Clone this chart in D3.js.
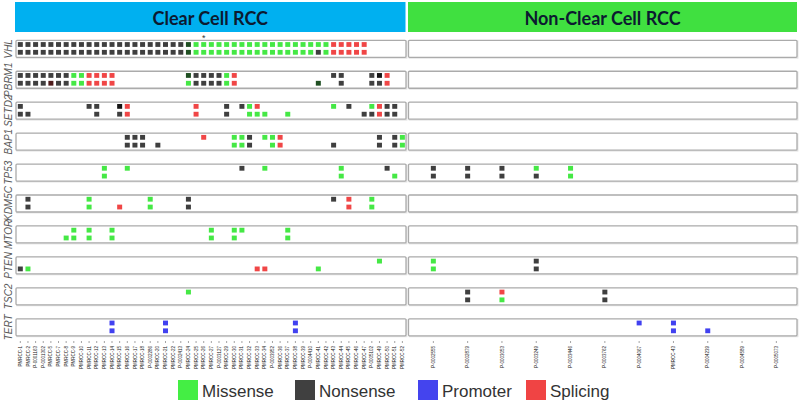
<!DOCTYPE html>
<html>
<head>
<meta charset="utf-8">
<script src="https://cdn.jsdelivr.net/npm/d3@7"></script>
<style>
  body { margin: 0; background: #fff; }
  svg { display: block; }
</style>
</head>
<body>
<div id="chart"></div>
<script>
// rows of the plot
var genes = ["VHL", "PBRM1", "SETD2", "BAP1", "TP53", "KDM5C", "MTOR", "PTEN", "TSC2", "TERT"];

// samples (columns)
var ccSamples = ["PMRCC-1","PMRCC-2","P-0001163","P-0001302","PMRCC-5","PMRCC-7","PMRCC-8","PMRCC-9","PMRCC-10","PMRCC-11",
  "PMRCC-12","PMRCC-13","PMRCC-14","PMRCC-15","PMRCC-16","PMRCC-17","PMRCC-18","P-0002286","PMRCC-20","PMRCC-21",
  "PMRCC-22","P-0002413","PMRCC-24","PMRCC-25","PMRCC-26","PMRCC-27","P-0003127","PMRCC-29","PMRCC-30","PMRCC-31",
  "PMRCC-32","PMRCC-33","PMRCC-34","P-0003952","PMRCC-36","PMRCC-37","PMRCC-38","PMRCC-39","P-0004410","PMRCC-41",
  "PMRCC-42","PMRCC-43","PMRCC-44","PMRCC-45","PMRCC-46","PMRCC-47","P-0005102","PMRCC-49","PMRCC-50","PMRCC-51",
  "PMRCC-52"];
var nccSamples = ["P-0002555","P-0002879","P-0003053","P-0003249","P-0003446","P-0003762","P-0004067","PMRCC-43","P-0004239","P-0004589","P-0005073"];

// mutation per sample, two lines per gene
// M missense, N nonsense, P promoter, S splicing, X dark green, K black, R dark red, . none
var ccTop = [
  "NNNNNNNNNN NNNNNNNNNN NNXMMMMMMM MMMMMMMMMM MSSSSS.... .",
  "NNNNNNNMMS SSS....... ..XNNNNMS. .......... .NN...NKS. .",
  "N........N N..KS..... ...S...N.N MS........ .M.N..MSNN .",
  ".......... ....NNN... ....S...MM N.MMS..... .......N.N M",
  ".......... .M..M..... .........N ..M....... ..M.....N. .",
  ".N.......M .......M.. ..N....... .......... .N.S..M... .",
  ".......M.M ..M....... .....M..MM .....M.... .......... .",
  ".......... .......... .......... .......... .......M.. .",
  ".......... .......... ..M....... .......... .......... .",
  ".......... ..P......P .......... ......P... .......... ."
];
var ccBottom = [
  "NNNNNNNNNN NNNNNNNNNN NNXMMMMMMM MMMMMMMMMN MSSSSS.... .",
  "NNNNRNNMMS SSS....... ..MNNNNMS. .........X ..N...NNS. .",
  "NN........ N..NS..... ...S...N.. MMM..M.... .....NNSNN .",
  ".......... ....NNN.N. ........MM N..MS..... .N.....N.N M",
  ".......... .M........ .......... .......... ..M......M .",
  ".N.......M ...S...M.. ..N....... .......... ...S..M... .",
  "......MM.M ..M....... .....M..M. .....M.... .......... .",
  "NM........ .......... .......... .SS......M .......... .",
  ".......... .......... .......... .......... .......... .",
  ".......... ..P......P .......... ......P... .......... ."
];
var nccTop = [
  "...........", "...........", "...........", "...........",
  "NNNMM......", "...........", "...........", "M..N.......",
  ".NS..N.....", "......PP..."
];
var nccBottom = [
  "...........", "...........", "...........", "...........",
  "NNNNM......", "...........", "...........", "M..N.......",
  ".NM..N.....", ".......PP.."
];
var starredSamples = ["PMRCC-26"];

var panelTitles = ["Clear Cell RCC", "Non-Clear Cell RCC"];
var legendKeys = ["Missense", "Nonsense", "Promoter", "Splicing"];

var colors = {M: "#45e845", N: "#3f3f3f", P: "#4141f0", S: "#f04646", X: "#1f4f22", K: "#151515", R: "#4e1a1a"};
var legendColor = d3.scaleOrdinal().domain(legendKeys).range(["#44ee44", "#404040", "#4444ee", "#f04444"]);

var width = 800, height = 407;
var svg = d3.select("#chart").append("svg")
  .attr("width", width)
  .attr("height", height);

// scales
var xL = d3.scaleBand().domain(ccSamples).range([16.5, 406.2]);
var xR = d3.scaleBand().domain(nccSamples).range([416.2, 793.5]);
var y = d3.scaleBand().domain(genes).range([40.3, 335.8]).paddingInner(0.4507).paddingOuter(0);
var ySub = d3.scalePoint().domain([0, 1]).range([4.2, 12]);

var sqW = 5, sqH = 4.8;

// headers
var headers = [
  {title: panelTitles[0], x0: 15, x1: 405.5, fill: "#00b0f0"},
  {title: panelTitles[1], x0: 408, x1: 797, fill: "#40e040"}
];
svg.selectAll("rect.hdr").data(headers).enter().append("rect")
  .attr("class", "hdr")
  .attr("x", function(d) { return d.x0; })
  .attr("y", 2)
  .attr("width", function(d) { return d.x1 - d.x0; })
  .attr("height", 30)
  .attr("fill", function(d) { return d.fill; });
svg.selectAll("text.hdr").data(headers).enter().append("text")
  .attr("class", "hdr")
  .attr("x", function(d) { return (d.x0 + d.x1) / 2; })
  .attr("y", 25)
  .attr("text-anchor", "middle")
  .style("font-family", "Lato, 'Open Sans', sans-serif")
  .style("font-weight", "bold")
  .style("font-size", "18px")
  .style("fill", "#0c1a30")
  .text(function(d) { return d.title; });

// gene boxes
var boxes = [[16, 406], [408.5, 797]];
boxes.forEach(function(b) {
  svg.append("g").selectAll("rect").data(genes).enter().append("rect")
    .attr("x", b[0] + 0.8)
    .attr("y", function(d) { return y(d) + 0.8; })
    .attr("width", b[1] - b[0])
    .attr("height", y.bandwidth())
    .attr("fill", "none")
    .attr("stroke", "#e2e2e2")
    .attr("stroke-width", 1.2);
  svg.append("g").selectAll("rect").data(genes).enter().append("rect")
    .attr("x", b[0])
    .attr("y", function(d) { return y(d); })
    .attr("width", b[1] - b[0])
    .attr("height", y.bandwidth())
    .attr("rx", 1)
    .attr("fill", "#fff")
    .attr("stroke", "#ababab")
    .attr("stroke-width", 1.3);
});

// gene labels
svg.append("g").selectAll("text").data(genes).enter().append("text")
  .attr("transform", function(d) { return "translate(12," + (y(d) + y.bandwidth() / 2) + ") rotate(-90)"; })
  .attr("text-anchor", "middle")
  .style("font-family", "'Liberation Sans', Arial, sans-serif")
  .style("font-style", "italic")
  .style("font-size", "10px")
  .style("fill", "#5a5a5a")
  .text(function(d) { return d; });

// mutation squares
function drawPanel(samples, topRows, botRows, x) {
  var cells = [];
  genes.forEach(function(g, gi) {
    [topRows[gi], botRows[gi]].forEach(function(str, ri) {
      var codes = str.replace(/ /g, "");
      samples.forEach(function(s, si) {
        if (codes[si] && codes[si] !== ".") cells.push({gene: g, line: ri, sample: s, code: codes[si]});
      });
    });
  });
  svg.append("g").selectAll("rect").data(cells).enter().append("rect")
    .attr("x", function(d) { return x(d.sample) + x.bandwidth() / 2 - sqW / 2; })
    .attr("y", function(d) { return y(d.gene) + ySub(d.line) - sqH / 2; })
    .attr("width", sqW)
    .attr("height", sqH)
    .attr("fill", function(d) { return colors[d.code]; });
}
drawPanel(ccSamples, ccTop, ccBottom, xL);
drawPanel(nccSamples, nccTop, nccBottom, xR);

// asterisk
svg.append("g").selectAll("text").data(starredSamples).enter().append("text")
  .attr("x", function(d) { return xL(d) + xL.bandwidth() / 2; })
  .attr("y", 40.5)
  .attr("text-anchor", "middle")
  .style("font-family", "'Liberation Sans', Arial, sans-serif")
  .style("font-size", "9px")
  .style("fill", "#333")
  .text("*");

// sample axes
function sampleAxis(x) {
  var g = svg.append("g")
    .attr("transform", "translate(0,341)")
    .call(d3.axisBottom(x).tickSize(2).tickSizeOuter(0));
  g.select(".domain").remove();
  g.selectAll(".tick line").attr("stroke", "#666").attr("stroke-width", 0.6);
  g.selectAll(".tick text")
    .attr("transform", "rotate(-90)")
    .attr("x", -5)
    .attr("y", 0)
    .attr("dy", "0.35em")
    .style("text-anchor", "end")
    .style("font-family", "'Liberation Sans', Arial, sans-serif")
    .style("font-size", "4.5px")
    .style("fill", "#222");
}
sampleAxis(xL);
sampleAxis(xR);

// legend
var legendX = [178, 295, 418, 526];
var lg = svg.append("g").selectAll("g").data(legendKeys).enter().append("g")
  .attr("transform", function(d, i) { return "translate(" + legendX[i] + ",380)"; });
lg.append("rect")
  .attr("width", 20)
  .attr("height", 20)
  .attr("fill", function(d) { return legendColor(d); });
lg.append("text")
  .attr("x", 24)
  .attr("y", 16.5)
  .style("font-family", "'Liberation Sans', Arial, sans-serif")
  .style("font-size", "17px")
  .style("fill", "#333")
  .text(function(d) { return d; });
</script>
</body>
</html>
